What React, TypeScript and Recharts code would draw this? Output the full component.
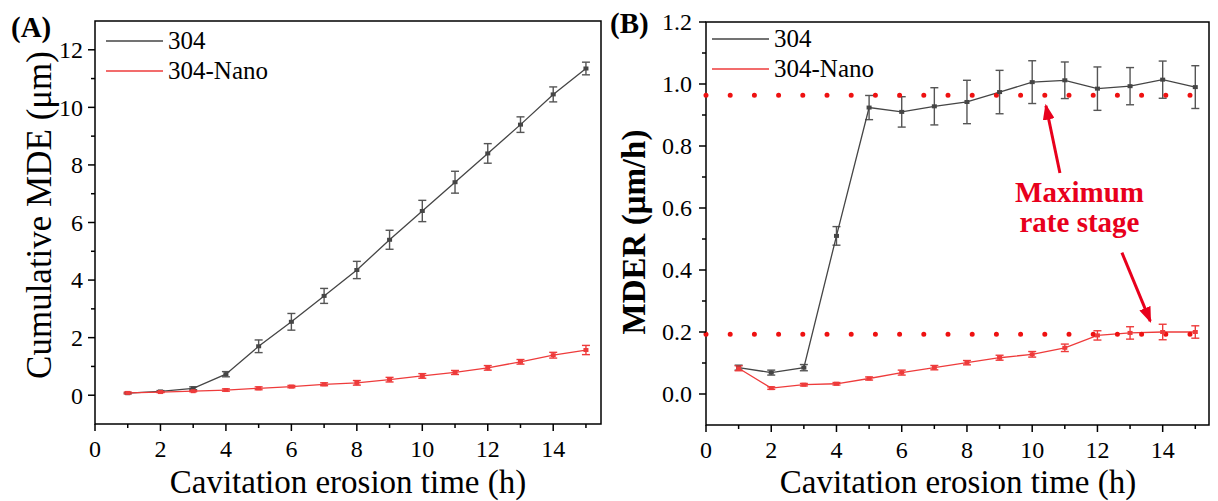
import React from 'react';
import { LineChart, Line, XAxis, YAxis, ErrorBar, ReferenceLine, ReferenceDot, ReferenceArea, Label } from 'recharts';

const hours = [1, 2, 3, 4, 5, 6, 7, 8, 9, 10, 11, 12, 13, 14, 15];
const seriesNames = ['304', '304-Nano'];
const seriesColors = ['#454545', '#ee3b3b'];
const errColors = ['#555555', '#ee3b3b'];

// Panel A: cumulative MDE (um)
const mde304 = [0.07, 0.13, 0.24, 0.73, 1.7, 2.55, 3.45, 4.35, 5.4, 6.4, 7.4, 8.4, 9.4, 10.45, 11.35];
const mde304Err = [0.02, 0.03, 0.05, 0.09, 0.22, 0.29, 0.26, 0.3, 0.33, 0.37, 0.38, 0.34, 0.27, 0.26, 0.22];
const mdeNano = [0.08, 0.11, 0.14, 0.18, 0.24, 0.3, 0.38, 0.43, 0.54, 0.67, 0.79, 0.95, 1.16, 1.39, 1.57];
const mdeNanoErr = [0.03, 0.02, 0.02, 0.04, 0.05, 0.04, 0.05, 0.08, 0.08, 0.08, 0.07, 0.08, 0.08, 0.1, 0.16];

// Panel B: MDER (um/h)
const mder304 = [0.085, 0.069, 0.085, 0.51, 0.924, 0.91, 0.928, 0.942, 0.974, 1.006, 1.012, 0.985, 0.993, 1.014, 0.99];
const mder304Err = [0.008, 0.008, 0.01, 0.03, 0.039, 0.049, 0.06, 0.07, 0.07, 0.069, 0.059, 0.07, 0.06, 0.06, 0.069];
const mderNano = [0.083, 0.019, 0.03, 0.033, 0.05, 0.069, 0.085, 0.101, 0.117, 0.128, 0.149, 0.189, 0.197, 0.2, 0.2];
const mderNanoErr = [0.008, 0.004, 0.004, 0.004, 0.005, 0.008, 0.007, 0.007, 0.008, 0.009, 0.012, 0.015, 0.02, 0.025, 0.02];
const maxRateLevels = [0.964, 0.193];

const xTicks = [0, 1, 2, 3, 4, 5, 6, 7, 8, 9, 10, 11, 12, 13, 14, 15];
const yTicksA = [0, 1, 2, 3, 4, 5, 6, 7, 8, 9, 10, 11, 12];
const yTicksB = [0, 0.1, 0.2, 0.3, 0.4, 0.5, 0.6, 0.7, 0.8, 0.9, 1.0, 1.1, 1.2];

const FONT = '"Liberation Serif", "Times New Roman", serif';
const RED = '#e8001c';
const DOT_RED = '#ee1111';

const rowsA = hours.map((h, i) => ({ h, a: mde304[i], ae: mde304Err[i], b: mdeNano[i], be: mdeNanoErr[i] }));
const rowsB = hours.map((h, i) => ({ h, a: mder304[i], ae: mder304Err[i], b: mderNano[i], be: mderNanoErr[i] }));

const XTick = (props: any) => {
  const { x, y, payload } = props;
  const v = payload.value;
  const major = Math.round(v) % 2 === 0;
  return (
    <g>
      <line x1={x} x2={x} y1={y} y2={y + (major ? 7 : 4)} stroke="#000" strokeWidth={1.5} />
      {major && (
        <text x={x} y={y + 33} textAnchor="middle" fontSize={24} fontFamily={FONT} fill="#000">
          {v}
        </text>
      )}
    </g>
  );
};

const makeYTick = (scale: number, decimals: number, gap: number) => (props: any) => {
  const { x, y, payload } = props;
  const v = payload.value;
  const major = Math.round(v * scale) % 2 === 0;
  return (
    <g>
      <line x1={x} x2={x - (major ? 7 : 4)} y1={y} y2={y} stroke="#000" strokeWidth={1.5} />
      {major && (
        <text x={x - gap} y={y} dy="0.35em" textAnchor="end" fontSize={24} fontFamily={FONT} fill="#000">
          {v.toFixed(decimals)}
        </text>
      )}
    </g>
  );
};
const YTickA = makeYTick(1, 0, 12);
const YTickB = makeYTick(10, 1, 14);

const makeSquare = (color: string) => (props: any) => {
  const { cx, cy, index } = props;
  if (cx == null || cy == null) return <g key={index} />;
  return <rect key={index} x={cx - 2.5} y={cy - 2} width={5} height={4} fill={color} />;
};
const dots = seriesColors.map((c) => makeSquare(c));

function PanelA() {
  return (
    <LineChart width={610} height={501} data={rowsA} margin={{ top: 21, right: 9, bottom: 76, left: 94 }}>
      <XAxis dataKey="h" type="number" domain={[0, 15.46]} ticks={xTicks} interval={0} height={1}
        tickSize={0} tickMargin={0} tick={<XTick />} axisLine={false} tickLine={false} allowDataOverflow />
      <YAxis type="number" domain={[-1, 13]} ticks={yTicksA} interval={0} width={1}
        tickSize={0} tickMargin={0} tick={<YTickA />} axisLine={false} tickLine={false} allowDataOverflow />
      <ReferenceArea x1={0} x2={15.46} y1={-1} y2={13} fill="none" stroke="#000" strokeWidth={1.5} ifOverflow="visible" />
      <Line dataKey="a" name={seriesNames[0]} stroke={seriesColors[0]} strokeWidth={1.3} dot={dots[0]} isAnimationActive={false}>
        <ErrorBar dataKey="ae" direction="y" width={4} stroke={errColors[0]} strokeWidth={1.4} isAnimationActive={false} />
      </Line>
      <Line dataKey="b" name={seriesNames[1]} stroke={seriesColors[1]} strokeWidth={1.3} dot={dots[1]} isAnimationActive={false}>
        <ErrorBar dataKey="be" direction="y" width={4} stroke={errColors[1]} strokeWidth={1.4} isAnimationActive={false} />
      </Line>
    </LineChart>
  );
}

function PanelB() {
  return (
    <LineChart width={607} height={501} data={rowsB} margin={{ top: 22, right: 9, bottom: 75, left: 94 }}>
      <XAxis dataKey="h" type="number" domain={[0, 15.42]} ticks={xTicks} interval={0} height={1}
        tickSize={0} tickMargin={0} tick={<XTick />} axisLine={false} tickLine={false} allowDataOverflow />
      <YAxis type="number" domain={[-0.1, 1.2]} ticks={yTicksB} interval={0} width={1}
        tickSize={0} tickMargin={0} tick={<YTickB />} axisLine={false} tickLine={false} allowDataOverflow />
      <ReferenceArea x1={0} x2={15.42} y1={-0.1} y2={1.2} fill="none" stroke="#000" strokeWidth={1.5} ifOverflow="visible" />
      <Line dataKey="a" name={seriesNames[0]} stroke={seriesColors[0]} strokeWidth={1.3} dot={dots[0]} isAnimationActive={false}>
        <ErrorBar dataKey="ae" direction="y" width={4} stroke={errColors[0]} strokeWidth={1.4} isAnimationActive={false} />
      </Line>
      <Line dataKey="b" name={seriesNames[1]} stroke={seriesColors[1]} strokeWidth={1.3} dot={dots[1]} isAnimationActive={false}>
        <ErrorBar dataKey="be" direction="y" width={4} stroke={errColors[1]} strokeWidth={1.4} isAnimationActive={false} />
      </Line>
      {maxRateLevels.map((lv) => (
        <ReferenceLine key={lv} y={lv} stroke={DOT_RED} strokeWidth={5} strokeDasharray="0 24.2" strokeLinecap="round" />
      ))}
      <ReferenceLine segment={[{ x: 10.85, y: 0.713 }, { x: 10.42, y: 0.93 }]} stroke={RED} strokeWidth={3} markerEnd="url(#arrowHead)" />
      <ReferenceLine segment={[{ x: 12.75, y: 0.456 }, { x: 13.62, y: 0.235 }]} stroke={RED} strokeWidth={3} markerEnd="url(#arrowHead)" />
      <ReferenceDot x={11.45} y={0.652} r={0} fill="none" stroke="none">
        <Label value="Maximum" position="center" fill={RED} fontSize={29} fontWeight="bold" fontFamily={FONT} />
      </ReferenceDot>
      <ReferenceDot x={11.45} y={0.557} r={0} fill="none" stroke="none">
        <Label value="rate stage" position="center" fill={RED} fontSize={29} fontWeight="bold" fontFamily={FONT} />
      </ReferenceDot>
    </LineChart>
  );
}

function LegendBlock({ x, y }: { x: number; y: number }) {
  return (
    <g transform={`translate(${x},${y})`}>
      {seriesNames.map((n, i) => (
        <g key={n} transform={`translate(0,${i * 30})`}>
          <line x1={0} x2={57} y1={0} y2={0} stroke={seriesColors[i]} strokeWidth={1.3} />
          <text x={62} y={8} fontSize={25} fontFamily={FONT} fill="#000">{n}</text>
        </g>
      ))}
    </g>
  );
}

export default function App() {
  return (
    <div style={{ position: 'absolute', left: 0, top: 0, width: 1218, height: 501, background: '#fff', overflow: 'hidden' }}>
      <div style={{ position: 'absolute', left: 0, top: 0 }}>
        <PanelA />
      </div>
      <div style={{ position: 'absolute', left: 611, top: 0 }}>
        <PanelB />
      </div>
      <svg width={1218} height={501} style={{ position: 'absolute', left: 0, top: 0, pointerEvents: 'none' }}>
        <defs>
          <marker id="arrowHead" markerUnits="userSpaceOnUse" markerWidth={16} markerHeight={12}
            viewBox="0 0 16 12" refX={14} refY={6} orient="auto">
            <path d="M0,0 L16,6 L0,12 z" fill={RED} />
          </marker>
        </defs>
        <text x={11} y={37} fontSize={29} fontWeight="bold" fontFamily={FONT} fill="#000">(A)</text>
        <text x={610} y={33} fontSize={29} fontWeight="bold" fontFamily={FONT} fill="#000">(B)</text>
        <LegendBlock x={106} y={41} />
        <LegendBlock x={712} y={39} />
        <text x={348} y={493} textAnchor="middle" fontSize={33} fontFamily={FONT} fill="#000">Cavitation erosion time (h)</text>
        <text x={958} y={493} textAnchor="middle" fontSize={33} fontFamily={FONT} fill="#000">Cavitation erosion time (h)</text>
        <text transform="translate(51,215) rotate(-90)" textAnchor="middle" fontSize={35} fontFamily={FONT} fill="#000">Cumulative MDE (μm)</text>
        <text transform="translate(645,232) rotate(-90)" textAnchor="middle" fontSize={33} fontWeight="bold" fontFamily={FONT} fill="#000">MDER (μm/h)</text>
      </svg>
    </div>
  );
}
